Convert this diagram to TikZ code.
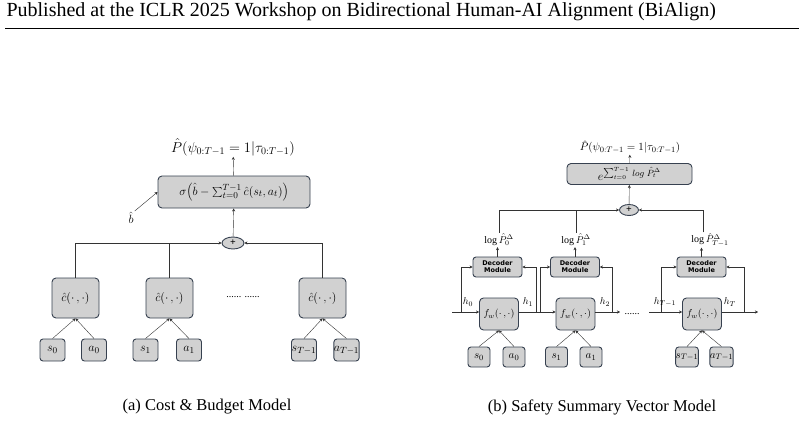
\documentclass[tikz,border=0pt]{standalone}
\usepackage{fontspec}
\setmainfont{Liberation Serif}
\newfontfamily\decfont{DejaVu Sans}
\usetikzlibrary{arrows.meta,shapes.geometric}
\definecolor{edgegray}{RGB}{55,65,80}
\begin{document}
\begin{tikzpicture}[x=1pt,y=-1pt,
        box/.style={draw=edgegray, fill=black!18, rounded corners=4pt, line width=0.9pt, inner sep=0pt},
        obs/.style={box, rounded corners=3pt, minimum width=25pt, minimum height=22pt},
        dec/.style={box, rounded corners=3pt, minimum width=49pt, minimum height=20pt, align=center, font=\decfont\bfseries\fontsize{6.5}{7}\selectfont},
        sumnode/.style={draw=edgegray, fill=black!18, ellipse, line width=0.9pt, minimum width=22pt, minimum height=12pt, inner sep=0pt, font=\bfseries},
        arr/.style={-{Stealth[length=3pt,width=3pt]}, black!80},
        lnk/.style={black!80},
        lbl/.style={font=\fontsize{10}{11}\selectfont, inner sep=1pt},
        big/.style={font=\fontsize{13}{14}\selectfont},
    ]
    \useasboundingbox (0,0) rectangle (804,423);
    % page header
    \node[anchor=west, font=\fontsize{20}{22}\selectfont] (head) at (3,12) {Published at the ICLR 2025 Workshop on Bidirectional Human-AI Alignment (BiAlign)};
    \draw[line width=0.5pt] (5,28) -- (799,28);

    % (a) cost & budget model
    \node[lbl, font=\fontsize{14}{15}\selectfont] (outA) at (233,147) {$\hat P(\psi_{0:T-1}=1|\tau_{0:T-1})$};
    \node[box, big, minimum width=152pt, minimum height=32pt] (sig) at (234,192) {$\sigma\Big(\hat b-\sum_{t=0}^{T-1}\hat c(s_t,a_t)\Big)$};
    \node[lbl, big] (bhat) at (131,218) {$\hat b$};
    \node[sumnode] (plusA) at (233,243) {+};
    \foreach \n/\x in {0/75.5, 1/169.5, 2/322.5}{
        \node[box, big, minimum width=47pt, minimum height=40pt] (c\n) at (\x,298) {$\hat c(\cdot\,,\cdot)$};
    }
    \node[lbl] (dotsA) at (243,297) {...... ......};
    \foreach \n/\xs/\xa/\s/\a in {0/52.5/94/s_0/a_0, 1/145.5/189/s_1/a_1, 2/304/346.5/s_{T-1}/a_{T-1}}{
        \node[obs, big] (s\n) at (\xs,350) {$\s$};
        \node[obs, big] (a\n) at (\xa,350) {$\a$};
        \draw[arr] (s\n.north) -- (c\n.south);
        \draw[arr] (a\n.north) -- (c\n.south);
    }
    \draw[arr] (sig) -- (outA);
    \draw[arr] (plusA) -- (sig);
    \draw[arr] (c0.north) |- (plusA.west);
    \draw[lnk] (c1.north) -- (c1.north |- plusA);
    \draw[arr] (c2.north) |- (plusA.east);
    \draw[arr] (bhat.north east) -- (sig.west);
    \node[font=\fontsize{16.5}{18}\selectfont] (capA) at (207,407) {(a) Cost \& Budget Model};

    % (b) safety summary vector model
    \node[lbl, font=\fontsize{11}{12}\selectfont] (outB) at (630,147) {$\hat P(\psi_{0:T-1}=1|\tau_{0:T-1})$};
    \node[box, big, minimum width=125pt, minimum height=21pt] (expo) at (629.5,174) {$e^{\sum_{t=0}^{T-1}\,log\;\hat P_t^{\Delta}}$};
    \node[sumnode, minimum width=19pt, minimum height=11pt] (plusB) at (629,210) {+};
    \foreach \n/\xd/\xf/\xl/\xr in {0/497.5/499/461/536, 1/575/575.5/540/612, 2/701.5/702/661/744}{
        \node[dec] (d\n) at (\xd,267) {Decoder\\Module};
        \node[box, minimum width=39pt, minimum height=32pt, font=\fontsize{10}{11}\selectfont] (f\n) at (\xf,314) {$f_w(\cdot\,,\cdot)$};
        \coordinate (hl\n) at (\xl,312);
        \coordinate (hr\n) at (\xr,312);
        \draw[arr] (hl\n) |- (d\n.west);
        \draw[arr] (hr\n) |- (d\n.east);
    }
    \node[lbl] (p0) at (499,240) {$\log\hat P_0^{\Delta}$};
    \node[lbl] (p1) at (576,240) {$\log\hat P_1^{\Delta}$};
    \node[lbl] (p2) at (710,240) {$\log\hat P_{T-1}^{\Delta}$};
    \foreach \n in {0,1,2}{
        \draw[arr] (d\n.north) -- (p\n.south -| d\n.north);
    }
    \draw[arr] (p0.north) |- (plusB.west);
    \draw[lnk] (p1.north) -- (p1.north |- plusB);
    \draw[arr] (p2.north -| 703,0) |- (plusB.east);
    \draw[arr] (plusB) -- (expo);
    \draw[arr] (expo) -- (outB);
    % hidden state chain
    \coordinate (hin) at (452,312);
    \coordinate (hmid) at (620,312);
    \coordinate (hres) at (649,312);
    \coordinate (hout) at (758,312);
    \draw[arr] (hin) -- (f0.west |- hin);
    \draw[arr] (f0.east |- hin) -- (f1.west |- hin);
    \draw[arr] (f1.east |- hin) -- (hmid);
    \draw[arr] (hres) -- (f2.west |- hres);
    \draw[arr] (f2.east |- hin) -- (hout);
    \node[lbl] (dotsB) at (632,314) {......};
    \node[lbl] (h0) at (468,302) {$h_0$};
    \node[lbl] (h1) at (528,302) {$h_1$};
    \node[lbl] (h2) at (605,302) {$h_2$};
    \node[lbl] (h3) at (665,302) {$h_{T-1}$};
    \node[lbl] (h4) at (730,302) {$h_T$};
    \foreach \n/\xs/\xa/\s/\a in {0/479/514/s_0/a_0, 1/556.5/591/s_1/a_1, 2/687/721.5/s_{T-1}/a_{T-1}}{
        \node[obs, minimum width=22pt, minimum height=20pt, font=\fontsize{11}{12}\selectfont] (bs\n) at (\xs,357) {$\s$};
        \node[obs, minimum width=22pt, minimum height=20pt, font=\fontsize{11}{12}\selectfont] (ba\n) at (\xa,357) {$\a$};
        \draw[arr] (bs\n.north) -- (f\n.south);
        \draw[arr] (ba\n.north) -- (f\n.south);
    }
    \node[font=\fontsize{16.5}{18}\selectfont] (capB) at (602,407) {(b) Safety Summary Vector Model};
\end{tikzpicture}
\end{document}
